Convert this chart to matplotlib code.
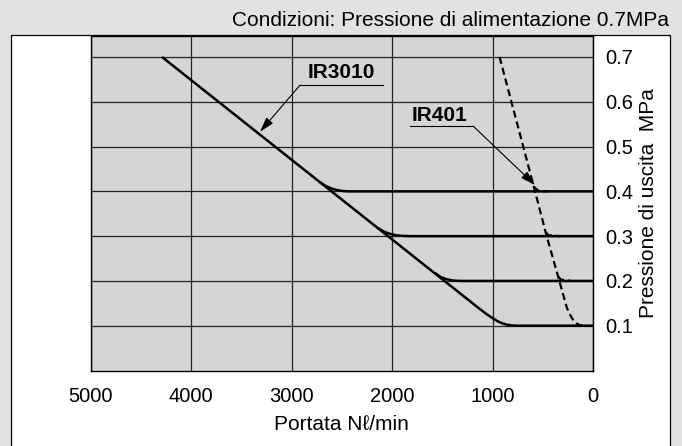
import matplotlib
matplotlib.use("Agg")
import matplotlib.pyplot as plt
from matplotlib.patches import Rectangle

plt.rcParams['font.family'] = ['Liberation Sans', 'DejaVu Sans']

# IR3010 main curve (set 0.1 MPa) and branches for the other set pressures
ir3010_main_flow = [4290, 1125, 1060, 1000, 950, 900, 850, 800, 760, 0]
ir3010_main_p = [0.700, 0.137, 0.126, 0.117, 0.110, 0.105, 0.102, 0.1005, 0.100, 0.100]
ir3010_04_flow = [2720, 2660, 2600, 2550, 2500, 2440, 0]
ir3010_04_p = [0.421, 0.412, 0.406, 0.403, 0.401, 0.400, 0.400]
ir3010_03_flow = [2140, 2080, 2020, 1960, 1890, 1820, 0]
ir3010_03_p = [0.318, 0.310, 0.305, 0.302, 0.3005, 0.300, 0.300]
ir3010_02_flow = [1575, 1520, 1460, 1400, 1320, 0]
ir3010_02_p = [0.218, 0.209, 0.204, 0.201, 0.200, 0.200]

# IR401 (dashed)
ir401_main_flow = [930, 577, 461, 335, 260, 236, 210, 185, 162, 130, 100]
ir401_main_p = [0.700, 0.400, 0.300, 0.200, 0.140, 0.128, 0.117, 0.109, 0.105, 0.101, 0.100]
ir401_04_flow = [590, 540, 440]
ir401_04_p = [0.410, 0.401, 0.400]
ir401_03_flow = [470, 440, 330]
ir401_03_p = [0.308, 0.302, 0.300]
ir401_02_flow = [345, 320, 220]
ir401_02_p = [0.210, 0.203, 0.200]

x_ticks = [5000, 4000, 3000, 2000, 1000, 0]
y_ticks = [0.1, 0.2, 0.3, 0.4, 0.5, 0.6, 0.7]

W, H = 682, 446
fig = plt.figure(figsize=(W / 100, H / 100), dpi=100, facecolor='#e1e2e4')

# white frame behind the chart
frame = Rectangle((10.5 / W, -0.05), 659 / W, 1 - 35.5 / H + 0.05,
                  transform=fig.transFigure, facecolor='white',
                  edgecolor='black', lw=0.9, zorder=-5)
fig.add_artist(frame)

ax = fig.add_axes([90.7 / W, 1 - 370.5 / H, (593 - 90.7) / W, (370.5 - 35.5) / H])
ax.set_zorder(1)
ax.set_facecolor('#d4d5d7')
ax.set_xlim(5000, 0)
ax.set_ylim(0, 0.748)
ax.set_xticks(x_ticks)
ax.set_yticks(y_ticks)
ax.set_yticklabels([f"{v:.1f}" for v in y_ticks])
ax.yaxis.tick_right()
ax.tick_params(length=0, labelsize=14.5, colors='black')
ax.tick_params(axis='x', pad=12)
ax.tick_params(axis='y', pad=9)
ax.grid(True, color='#222222', lw=0.9)
ax.set_axisbelow(True)
for s in ax.spines.values():
    s.set_color('black')
    s.set_linewidth(1.0)

lw = 1.8
for fx, py in [(ir3010_main_flow, ir3010_main_p), (ir3010_04_flow, ir3010_04_p),
               (ir3010_03_flow, ir3010_03_p), (ir3010_02_flow, ir3010_02_p)]:
    ax.plot(fx, py, color='black', lw=lw, solid_capstyle='butt', zorder=3)

for fx, py in [(ir401_main_flow, ir401_main_p), (ir401_04_flow, ir401_04_p),
               (ir401_03_flow, ir401_03_p), (ir401_02_flow, ir401_02_p)]:
    ax.plot(fx, py, color='black', lw=1.6, dashes=(3.2, 1.8), zorder=3)

# labels with underline and leader arrow
arrow = dict(arrowstyle='-|>,head_length=0.75,head_width=0.22', color='black',
             lw=0.8, shrinkA=0, shrinkB=0, mutation_scale=12)
ax.text(2508, 0.665, 'IR3010', ha='center', va='center', fontsize=15, fontweight='bold')
ax.plot([2917, 2090], [0.637, 0.637], color='black', lw=0.8)
ax.annotate('', xy=(3315, 0.533), xytext=(2917, 0.637), arrowprops=arrow)

ax.text(1523, 0.570, 'IR401', ha='center', va='center', fontsize=15, fontweight='bold')
ax.plot([1822, 1194], [0.546, 0.546], color='black', lw=0.8)
ax.annotate('', xy=(577, 0.414), xytext=(1194, 0.546), arrowprops=arrow)

fig.text(669 / W, 1 - 20 / H, 'Condizioni: Pressione di alimentazione 0.7MPa',
         ha='right', va='center', fontsize=15)
fig.text(341 / W, 1 - 425 / H, 'Portata N\u2113/min', ha='center', va='center', fontsize=15)
fig.text(648 / W, 1 - 203 / H, 'Pressione di uscita  MPa', rotation=90,
         ha='center', va='center', fontsize=15)

fig.savefig('out.png', dpi=100, facecolor=fig.get_facecolor())
